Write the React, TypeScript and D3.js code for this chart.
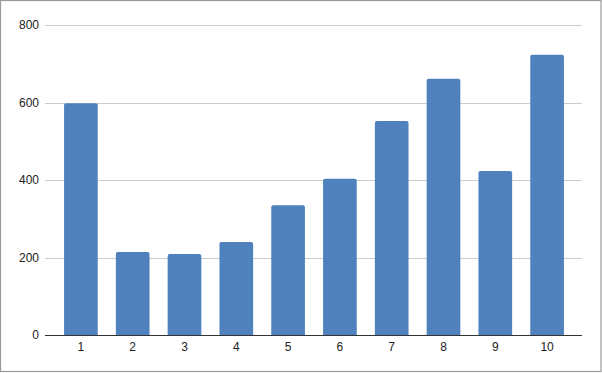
import React from "react";
import * as d3 from "d3";

const categories = ["1", "2", "3", "4", "5", "6", "7", "8", "9", "10"];
const values = [598, 214, 209, 240, 335, 403, 552, 661, 423, 723];
const yTicks = [0, 200, 400, 600, 800];

const W = 602;
const H = 373;

export default function App() {
  const x = d3.scaleBand<string>().domain(categories).range([55, 573]).paddingInner(0.35).paddingOuter(0.175);
  const y = d3.scaleLinear().domain([0, 800]).range([335, 25]);
  const gridX0 = 45;
  const gridX1 = 582;
  const font = "Arial, 'Liberation Sans', sans-serif";
  return (
    <div style={{ position: "fixed", left: 0, top: 0 }}>
      <svg width={W} height={H} style={{ display: "block" }}>
        <rect x={0} y={0} width={W} height={H} fill="#fff" />
        <rect x={0.5} y={0.5} width={600.5} height={371} fill="none" stroke="#9a9a9a" strokeWidth={1.2} />
        {yTicks.map((t) => (
          <g key={t}>
            {t !== 0 && (
              <line x1={gridX0} x2={gridX1} y1={Math.round(y(t)) + 0.5} y2={Math.round(y(t)) + 0.5} stroke="#cccccc" strokeWidth={1} />
            )}
            <text x={39} y={y(t)} dy="0.35em" textAnchor="end" fontFamily={font} fontSize={12} fill="#222">
              {t}
            </text>
          </g>
        ))}
        {categories.map((c, i) => (
          <path
            key={c}
            d={(() => {
              const x0 = x(c)!;
              const w = x.bandwidth();
              const y0 = y(values[i]);
              const y1 = y(0);
              const r = 2;
              return `M${x0},${y1}V${y0 + r}Q${x0},${y0} ${x0 + r},${y0}H${x0 + w - r}Q${x0 + w},${y0} ${x0 + w},${y0 + r}V${y1}Z`;
            })()}
            fill="#4f81bd"
          />
        ))}
        <line x1={gridX0} x2={gridX1} y1={y(0) + 0.5} y2={y(0) + 0.5} stroke="#333" strokeWidth={1} />
        {categories.map((c) => (
          <text key={c} x={x(c)! + x.bandwidth() / 2} y={351} textAnchor="middle" fontFamily={font} fontSize={12} fill="#222">
            {c}
          </text>
        ))}
      </svg>
    </div>
  );
}
